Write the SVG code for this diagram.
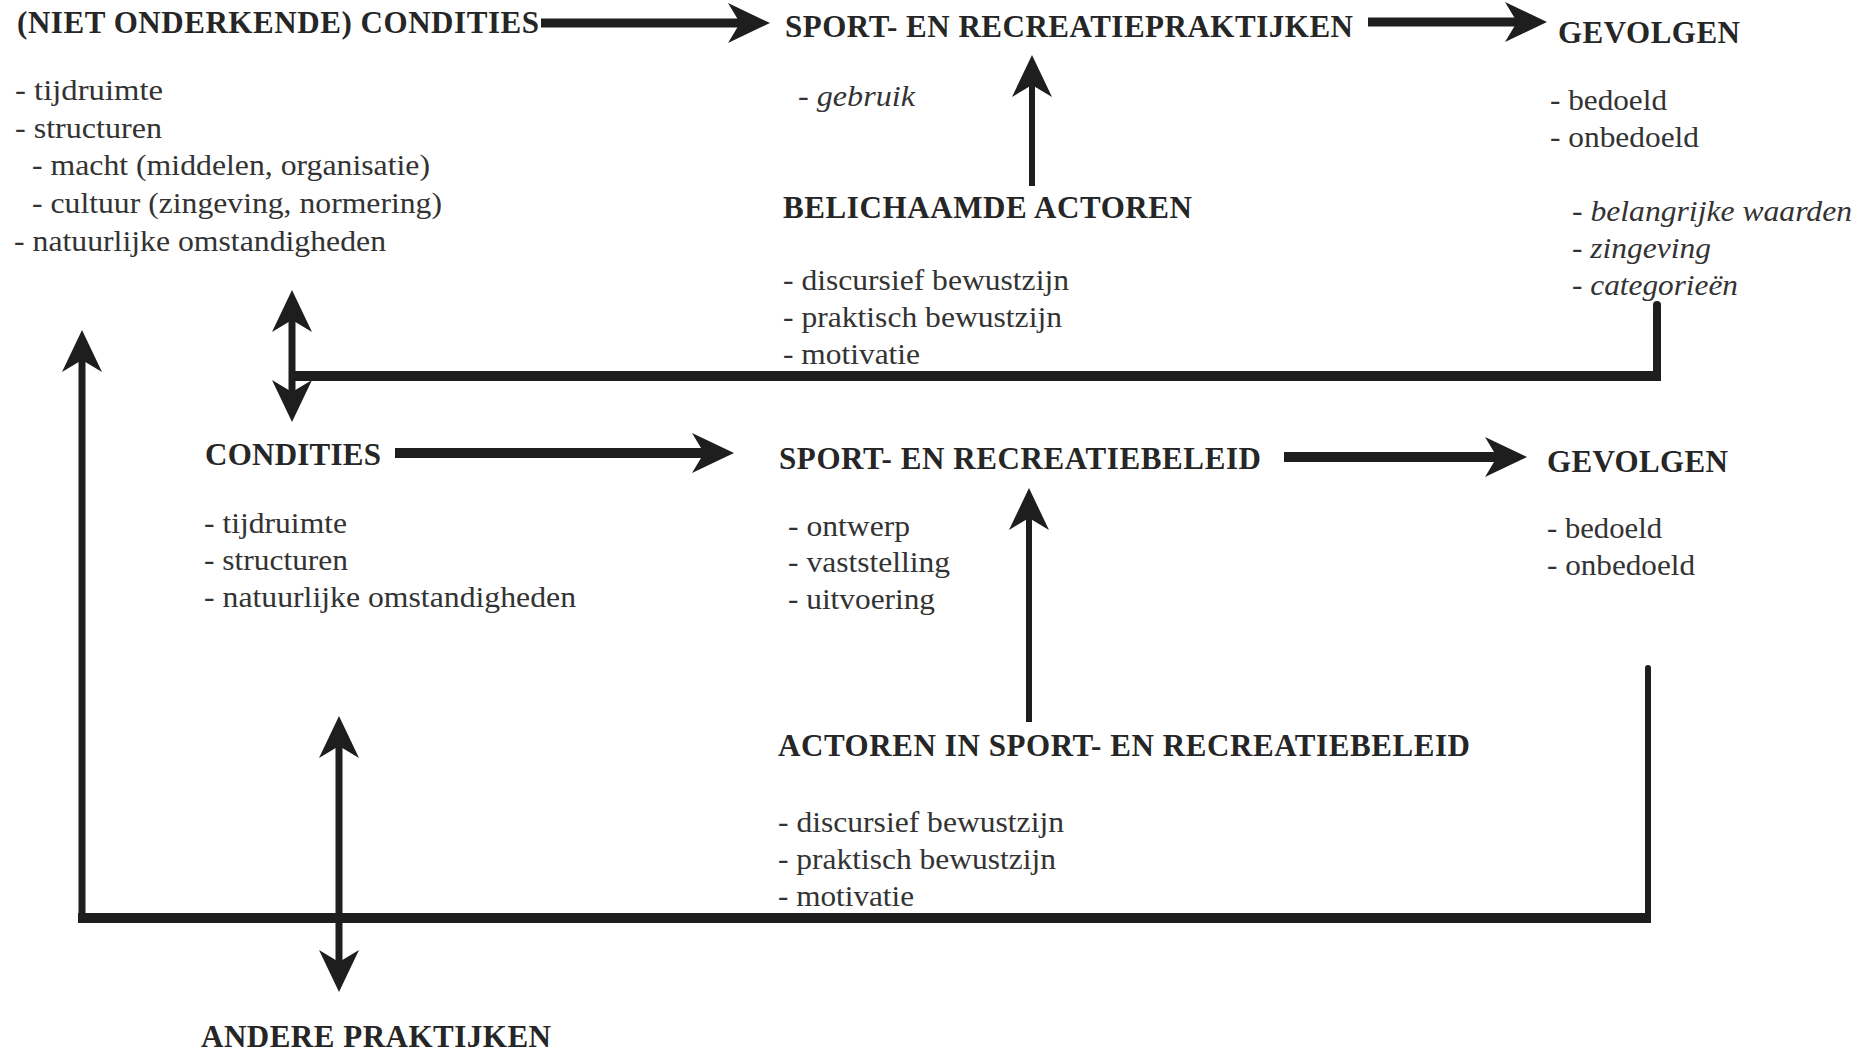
<svg xmlns="http://www.w3.org/2000/svg" width="1863" height="1059" viewBox="0 0 1863 1059">
<defs>
<style>
.h{font-family:"Liberation Serif","Times New Roman",serif;font-weight:bold;font-size:31px;fill:#262626}
.b{font-family:"Liberation Serif","Times New Roman",serif;font-size:30px;fill:#333}
.i{font-family:"Liberation Serif","Times New Roman",serif;font-style:italic;font-size:30px;fill:#333}
.c{fill:none;stroke:#1e1e1e}
</style>
<marker id="ah" viewBox="0 0 42 40" refX="14" refY="20" markerWidth="42" markerHeight="40" markerUnits="userSpaceOnUse" orient="auto-start-reverse">
<path d="M0,0 L42,20 L0,40 L12,20 Z" fill="#1e1e1e"/>
</marker>
</defs>
<rect width="1863" height="1059" fill="#fff"/>

<g id="connectors">
<path class="c" stroke-width="9" d="M541,23 L742,23" marker-end="url(#ah)"/>
<path class="c" stroke-width="9" d="M1368,22 L1519,22" marker-end="url(#ah)"/>
<path class="c" stroke-width="6" d="M1032,186 L1032,83" marker-end="url(#ah)"/>
<path class="c" stroke-width="7" d="M292,318 L292,394" marker-start="url(#ah)" marker-end="url(#ah)"/>
<path class="c" stroke-width="10" d="M292,376 L1661,376"/>
<path class="c" stroke-width="8" stroke-linecap="round" d="M1657,305 L1657,376"/>
<path class="c" stroke-width="7" d="M82,921 L82,358" marker-end="url(#ah)"/>
<path class="c" stroke-width="10" d="M395,453 L706,453" marker-end="url(#ah)"/>
<path class="c" stroke-width="10" d="M1284,457 L1499,457" marker-end="url(#ah)"/>
<path class="c" stroke-width="6" d="M1029,722 L1029,516" marker-end="url(#ah)"/>
<path class="c" stroke-width="6" stroke-linecap="round" d="M1648,668 L1648,917"/>
<path class="c" stroke-width="10" d="M78,918 L1651,918"/>
<path class="c" stroke-width="7" d="M339,744 L339,964" marker-start="url(#ah)" marker-end="url(#ah)"/>
</g>

<g id="node-niet-onderkende-condities">
<text class="h" x="17" y="33" textLength="522">(NIET ONDERKENDE) CONDITIES</text>
<text class="b" x="15" y="100" textLength="148" lengthAdjust="spacingAndGlyphs">- tijdruimte</text>
<text class="b" x="15" y="138" textLength="147" lengthAdjust="spacingAndGlyphs">- structuren</text>
<text class="b" x="32" y="175" textLength="398" lengthAdjust="spacingAndGlyphs">- macht (middelen, organisatie)</text>
<text class="b" x="32" y="213" textLength="410" lengthAdjust="spacingAndGlyphs">- cultuur (zingeving, normering)</text>
<text class="b" x="14" y="251" textLength="372" lengthAdjust="spacingAndGlyphs">- natuurlijke omstandigheden</text>
</g>

<g id="node-sport-recreatiepraktijken">
<text class="h" x="785" y="37" textLength="568">SPORT- EN RECREATIEPRAKTIJKEN</text>
<text class="i" x="798" y="106" textLength="117" lengthAdjust="spacingAndGlyphs">- gebruik</text>
</g>

<g id="node-gevolgen-1">
<text class="h" x="1558" y="43" textLength="182">GEVOLGEN</text>
<text class="b" x="1550" y="110" textLength="117" lengthAdjust="spacingAndGlyphs">- bedoeld</text>
<text class="b" x="1550" y="147" textLength="149" lengthAdjust="spacingAndGlyphs">- onbedoeld</text>
<text class="i" x="1572" y="221" textLength="280" lengthAdjust="spacingAndGlyphs">- belangrijke waarden</text>
<text class="i" x="1572" y="258" textLength="139" lengthAdjust="spacingAndGlyphs">- zingeving</text>
<text class="i" x="1572" y="295" textLength="166" lengthAdjust="spacingAndGlyphs">- categorieën</text>
</g>

<g id="node-belichaamde-actoren">
<text class="h" x="783" y="218" textLength="409">BELICHAAMDE ACTOREN</text>
<text class="b" x="783" y="290" textLength="286" lengthAdjust="spacingAndGlyphs">- discursief bewustzijn</text>
<text class="b" x="783" y="327" textLength="279" lengthAdjust="spacingAndGlyphs">- praktisch bewustzijn</text>
<text class="b" x="783" y="364" textLength="137" lengthAdjust="spacingAndGlyphs">- motivatie</text>
</g>

<g id="node-condities">
<text class="h" x="205" y="465" textLength="176">CONDITIES</text>
<text class="b" x="204" y="533" textLength="143" lengthAdjust="spacingAndGlyphs">- tijdruimte</text>
<text class="b" x="204" y="570" textLength="144" lengthAdjust="spacingAndGlyphs">- structuren</text>
<text class="b" x="204" y="607" textLength="372" lengthAdjust="spacingAndGlyphs">- natuurlijke omstandigheden</text>
</g>

<g id="node-sport-recreatiebeleid">
<text class="h" x="779" y="469" textLength="482">SPORT- EN RECREATIEBELEID</text>
<text class="b" x="788" y="536" textLength="122" lengthAdjust="spacingAndGlyphs">- ontwerp</text>
<text class="b" x="788" y="572" textLength="162" lengthAdjust="spacingAndGlyphs">- vaststelling</text>
<text class="b" x="788" y="609" textLength="147" lengthAdjust="spacingAndGlyphs">- uitvoering</text>
</g>

<g id="node-gevolgen-2">
<text class="h" x="1547" y="472" textLength="181">GEVOLGEN</text>
<text class="b" x="1547" y="538" textLength="115" lengthAdjust="spacingAndGlyphs">- bedoeld</text>
<text class="b" x="1547" y="575" textLength="148" lengthAdjust="spacingAndGlyphs">- onbedoeld</text>
</g>

<g id="node-actoren-beleid">
<text class="h" x="778" y="756" textLength="692">ACTOREN IN SPORT- EN RECREATIEBELEID</text>
<text class="b" x="778" y="832" textLength="286" lengthAdjust="spacingAndGlyphs">- discursief bewustzijn</text>
<text class="b" x="778" y="869" textLength="278" lengthAdjust="spacingAndGlyphs">- praktisch bewustzijn</text>
<text class="b" x="778" y="906" textLength="136" lengthAdjust="spacingAndGlyphs">- motivatie</text>
</g>

<g id="node-andere-praktijken">
<text class="h" x="201" y="1047" textLength="350">ANDERE PRAKTIJKEN</text>
</g>
</svg>
